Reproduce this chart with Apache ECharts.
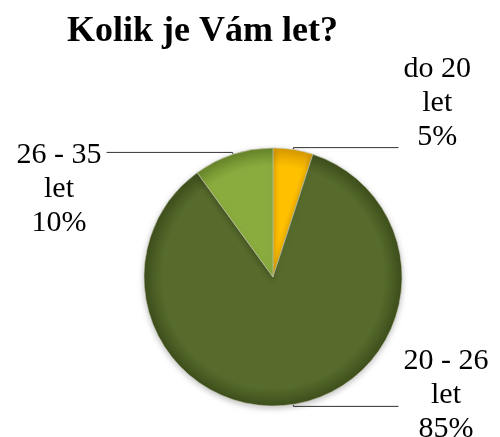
<!DOCTYPE html>
<html>
<head>
<meta charset="utf-8">
<script src="https://cdn.jsdelivr.net/npm/echarts@6/dist/echarts.min.js"></script>
<style>
  html, body { margin: 0; padding: 0; background: #fff; }
  #chart { width: 500px; height: 437px; }
</style>
</head>
<body>
<div id="chart"></div>
<script>
// data
const categories = ['do 20 let', '20 - 26 let', '26 - 35 let'];
const values = [5, 85, 10];
const colors = ['#FFC000', '#566B2C', '#8AAC3E'];
const edgeColors = ['#D99A00', '#3E4F1C', '#68852A'];

const cx = 273, cy = 277, rad = 129;

// label padding to put the leader line at the right text row
const labelPads = [[0, 0, 88, 0], [0, 0, 22, 0], [74, 0, 0, 0]];
const lineLen2 = [105, 105, 126];

let myChart = echarts.init(document.getElementById('chart'));

const pieData = categories.map((name, i) => ({
  name: name,
  value: values[i],
  itemStyle: {
    color: {
      type: 'radial', x: cx, y: cy, r: rad, global: true,
      colorStops: [
        { offset: 0, color: colors[i] },
        { offset: 0.86, color: colors[i] },
        { offset: 1, color: edgeColors[i] }
      ]
    }
  },
  label: { padding: labelPads[i] },
  labelLine: { length2: lineLen2[i] }
}));

let option = {
  animation: false,
  title: {
    text: 'Kolik je Vám let?',
    left: 62,
    top: 9,
    textStyle: {
      fontFamily: 'Liberation Serif',
      fontSize: 36,
      fontWeight: 'bold',
      color: '#000'
    }
  },
  series: [
    {
      type: 'pie',
      center: [cx, cy],
      radius: rad,
      startAngle: 90,
      clockwise: true,
      avoidLabelOverlap: false,
      data: pieData,
      itemStyle: {
        borderColor: 'rgba(200,200,180,0.6)',
        borderWidth: 1,
        shadowBlur: 6,
        shadowColor: 'rgba(0,0,0,0.25)',
        shadowOffsetY: 2
      },
      label: {
        show: true,
        position: 'outside',
        bleedMargin: 0,
        distanceToLabelLine: 5,
        formatter: function (p) {
          const parts = p.name.split(' let');
          return '{a|' + parts[0] + '}\n{a|let}\n{a|' + Math.round(p.percent) + '%}';
        },
        rich: {
          a: {
            align: 'center',
            fontFamily: 'Liberation Serif',
            fontSize: 30,
            lineHeight: 34,
            color: '#000'
          }
        }
      },
      labelLine: {
        show: true,
        length: 2,
        length2: 105,
        lineStyle: { color: '#333', width: 1 }
      }
    }
  ]
};

myChart.setOption(option);
</script>
</body>
</html>
